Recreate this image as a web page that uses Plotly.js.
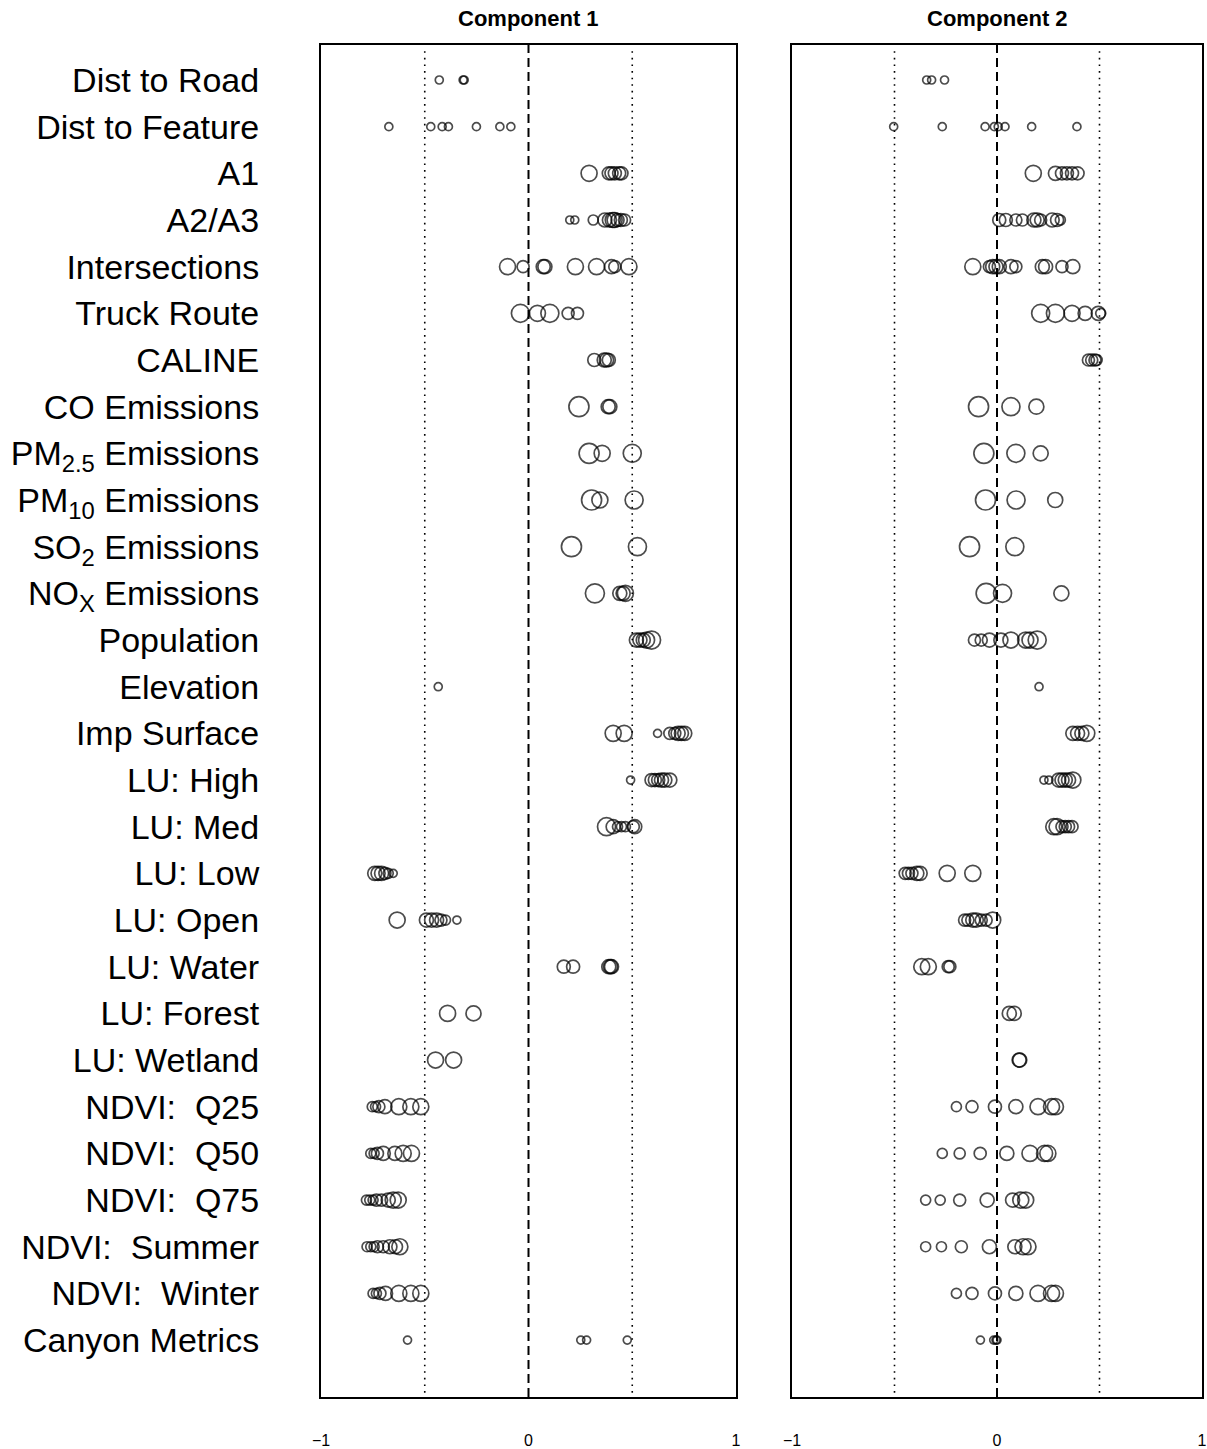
<!DOCTYPE html>
<html>
<head>
<meta charset="utf-8">
<script src="https://cdn.plot.ly/plotly-3.0.1.min.js"></script>
<style>html,body{margin:0;padding:0;background:#fff;}#chart{width:1207px;height:1449px;}</style>
</head>
<body>
<div id="chart"></div>
<script>
const variables = ["Dist to Road","Dist to Feature","A1","A2/A3","Intersections","Truck Route","CALINE",
  "CO Emissions","PM2.5 Emissions","PM10 Emissions","SO2 Emissions","NOX Emissions","Population","Elevation",
  "Imp Surface","LU: High","LU: Med","LU: Low","LU: Open","LU: Water","LU: Forest","LU: Wetland",
  "NDVI: Q25","NDVI: Q50","NDVI: Q75","NDVI: Summer","NDVI: Winter","Canyon Metrics"];

const tickLabels = ["Dist to Road","Dist to Feature","A1","A2/A3","Intersections","Truck Route","CALINE",
  "CO Emissions","PM<sub>2.5</sub> Emissions","PM<sub>10</sub> Emissions","SO<sub>2</sub> Emissions","NO<sub>X</sub> Emissions","Population","Elevation",
  "Imp Surface","LU: High","LU: Med","LU: Low","LU: Open","LU: Water","LU: Forest","LU: Wetland",
  "NDVI:\u00A0 Q25","NDVI:\u00A0 Q50","NDVI:\u00A0 Q75","NDVI:\u00A0 Summer","NDVI:\u00A0 Winter","Canyon Metrics"];

const panelTitles = ["Component 1","Component 2"];
const xTickVals = [-1, 0, 1];

const c1Loadings = [
  [-0.43,-0.315,-0.31],
  [-0.673,-0.471,-0.416,-0.386,-0.251,-0.138,-0.085],
  [0.292,0.387,0.40,0.416,0.437,0.448],
  [0.199,0.223,0.312,0.368,0.39,0.406,0.415,0.429,0.445,0.463],
  [-0.101,-0.026,0.071,0.079,0.226,0.328,0.40,0.416,0.484],
  [-0.039,0.043,0.103,0.191,0.236],
  [0.317,0.365,0.376,0.387],
  [0.243,0.384,0.392],
  [0.292,0.355,0.50],
  [0.304,0.344,0.509],
  [0.207,0.525],
  [0.32,0.44,0.456,0.467],
  [0.52,0.537,0.553,0.569,0.593],
  [-0.435],
  [0.408,0.461,0.622,0.681,0.705,0.721,0.737,0.753],
  [0.492,0.593,0.609,0.625,0.641,0.657,0.681],
  [0.376,0.408,0.429,0.448,0.467,0.505,0.512],
  [-0.741,-0.725,-0.708,-0.692,-0.676,-0.652],
  [-0.633,-0.492,-0.467,-0.443,-0.422,-0.40,-0.345],
  [0.17,0.215,0.387,0.395,0.40],
  [-0.39,-0.265],
  [-0.448,-0.361],
  [-0.753,-0.737,-0.721,-0.692,-0.625,-0.567,-0.519],
  [-0.76,-0.744,-0.728,-0.70,-0.644,-0.604,-0.564],
  [-0.781,-0.765,-0.749,-0.733,-0.708,-0.676,-0.652,-0.628],
  [-0.778,-0.76,-0.744,-0.728,-0.70,-0.668,-0.641,-0.62],
  [-0.749,-0.733,-0.716,-0.689,-0.625,-0.567,-0.519],
  [-0.583,0.252,0.28,0.476]
];

const c1Weights = [
  [8,8,8],
  [8,8,8,8,8,8,8],
  [16,13,13,13,13,13],
  [8,8,10,14,14,15,15,13,13,12],
  [16,12,14,14,16,16,14,12,16],
  [18,16,18,12,12],
  [13,14,14,13],
  [20,14,14],
  [20,16,18],
  [20,16,18],
  [20,18],
  [19,14,14,16],
  [14,14,14,16,18],
  [8],
  [16,16,8,12,12,14,14,14],
  [8,13,13,13,14,14,14],
  [18,14,10,10,10,12,14],
  [14,14,14,12,10,8],
  [16,14,14,14,12,10,8],
  [13,13,14,14,14],
  [16,15],
  [16,16],
  [10,10,12,14,16,16,16],
  [10,10,12,14,14,16,16],
  [10,10,10,12,12,14,16,16],
  [10,10,10,12,12,14,14,16],
  [10,10,12,14,16,16,16],
  [8,8,8,8]
];

const c2Loadings = [
  [-0.343,-0.319,-0.256],
  [-0.504,-0.267,-0.058,-0.013,0.006,0.039,0.169,0.39],
  [0.177,0.285,0.317,0.341,0.366,0.393],
  [0.011,0.043,0.092,0.124,0.18,0.196,0.213,0.269,0.293,0.309],
  [-0.118,-0.037,-0.021,-0.005,0.011,0.068,0.092,0.221,0.237,0.317,0.37],
  [0.213,0.285,0.366,0.43,0.494,0.506],
  [0.446,0.462,0.478,0.486],
  [-0.09,0.068,0.192],
  [-0.064,0.092,0.213],
  [-0.056,0.093,0.284],
  [-0.134,0.087],
  [-0.053,0.027,0.314],
  [-0.11,-0.077,-0.037,0.019,0.068,0.14,0.161,0.196],
  [0.205],
  [0.37,0.393,0.414,0.438],
  [0.229,0.253,0.301,0.317,0.333,0.349,0.37],
  [0.277,0.293,0.317,0.333,0.349,0.366],
  [-0.448,-0.432,-0.415,-0.391,-0.375,-0.243,-0.118],
  [-0.158,-0.142,-0.118,-0.101,-0.077,-0.053,-0.021],
  [-0.367,-0.335,-0.238,-0.23],
  [0.06,0.084],
  [0.108,0.111],
  [-0.198,-0.122,-0.01,0.092,0.2,0.266,0.285],
  [-0.267,-0.182,-0.082,0.048,0.161,0.232,0.248],
  [-0.348,-0.277,-0.182,-0.048,0.076,0.116,0.14],
  [-0.348,-0.271,-0.174,-0.037,0.087,0.127,0.151],
  [-0.198,-0.122,-0.01,0.092,0.2,0.266,0.285],
  [-0.081,-0.016,-0.005,0.0]
];

const c2Weights = [
  [8,8,8],
  [8,8,8,8,8,8,8,8],
  [16,14,13,13,13,13],
  [13,13,12,12,14,14,12,14,13,10],
  [16,12,14,14,14,14,12,14,14,12,14],
  [18,18,16,14,14,10],
  [12,12,12,11],
  [20,18,15],
  [20,18,15],
  [20,18,15],
  [20,18],
  [20,18,15],
  [12,12,14,14,16,16,16,18],
  [8],
  [14,14,14,16],
  [8,8,14,14,14,14,16],
  [16,16,12,12,12,12],
  [12,12,12,14,14,16,16],
  [12,12,14,14,12,12,16],
  [16,16,12,12],
  [14,14],
  [14,14],
  [10,12,13,14,16,16,16],
  [10,11,12,14,16,16,16],
  [10,10,12,14,14,16,16],
  [10,10,12,14,14,16,16],
  [10,12,13,14,16,16,16],
  [8,8,8,8]
];

function buildTrace(loadings, weights, xa, ya) {
  const x = [], y = [], s = [];
  loadings.forEach((row, i) => row.forEach((v, j) => {
    x.push(v); y.push(variables[i]); s.push(weights[i][j]);
  }));
  return {
    type: 'scatter', mode: 'markers', x: x, y: y, xaxis: xa, yaxis: ya,
    marker: {symbol: 'circle-open', size: s, color: '#000', line: {width: 1.7, color: '#000'}},
    hoverinfo: 'x+y', showlegend: false
  };
}

const W = 1207, H = 1449;
const dom1 = [321 / W, 736 / W];
const dom2 = [792 / W, 1202 / W];
const ydom = [1 - 1397 / H, 1 - 45 / H];
const yRange = [28.22, -0.75];

const fontFam = 'Liberation Sans, Arial, Helvetica, sans-serif';

const xBase = {
  range: [-1, 1], showgrid: false, zeroline: false, showline: true, mirror: true,
  linecolor: '#000', linewidth: 2, ticks: '', tickvals: xTickVals, ticklabeloverflow: 'allow',
  tickfont: {family: fontFam, size: 16, color: '#000'}, ticklabelstandoff: 28, fixedrange: true
};
const yBase = {
  type: 'category', categoryorder: 'array', categoryarray: variables, range: yRange,
  showgrid: false, zeroline: false, showline: true, mirror: true, linecolor: '#000', linewidth: 2,
  ticks: '', fixedrange: true
};

const shapes = [];
['x', 'x2'].forEach(xr => {
  shapes.push({type: 'line', xref: xr, yref: 'paper', x0: 0, x1: 0, y0: ydom[0], y1: ydom[1],
    line: {color: '#000', width: 2, dash: '9px,5px'}, layer: 'below'});
  [-0.5, 0.5].forEach(v => shapes.push({type: 'line', xref: xr, yref: 'paper', x0: v, x1: v,
    y0: ydom[0] + 0.003, y1: ydom[1] - 0.003, line: {color: '#000', width: 1.6, dash: '1.6px,5px'}, layer: 'below'}));
});

const layout = {
  width: W, height: H, margin: {l: 0, r: 0, t: 0, b: 0},
  paper_bgcolor: '#fff', plot_bgcolor: '#fff', showlegend: false,
  xaxis: Object.assign({}, xBase, {domain: dom1, anchor: 'y'}),
  xaxis2: Object.assign({}, xBase, {domain: dom2, anchor: 'y2'}),
  yaxis: Object.assign({}, yBase, {domain: ydom, anchor: 'x', tickvals: variables, ticktext: tickLabels,
    tickfont: {family: fontFam, size: 34, color: '#000'}, ticklabelstandoff: 53}),
  yaxis2: Object.assign({}, yBase, {domain: ydom, anchor: 'x2', showticklabels: false}),
  shapes: shapes,
  annotations: panelTitles.map((t, i) => ({
    text: '<b>' + t + '</b>', xref: 'paper', yref: 'paper',
    x: (i === 0 ? (dom1[0] + dom1[1]) / 2 : (dom2[0] + dom2[1]) / 2), y: 1 - 18 / H,
    xanchor: 'center', yanchor: 'middle', showarrow: false,
    font: {family: fontFam, size: 22, color: '#000'}
  }))
};

Plotly.newPlot('chart', [buildTrace(c1Loadings, c1Weights, 'x', 'y'), buildTrace(c2Loadings, c2Weights, 'x2', 'y2')],
  layout, {displayModeBar: false, staticPlot: true});
</script>
</body>
</html>
